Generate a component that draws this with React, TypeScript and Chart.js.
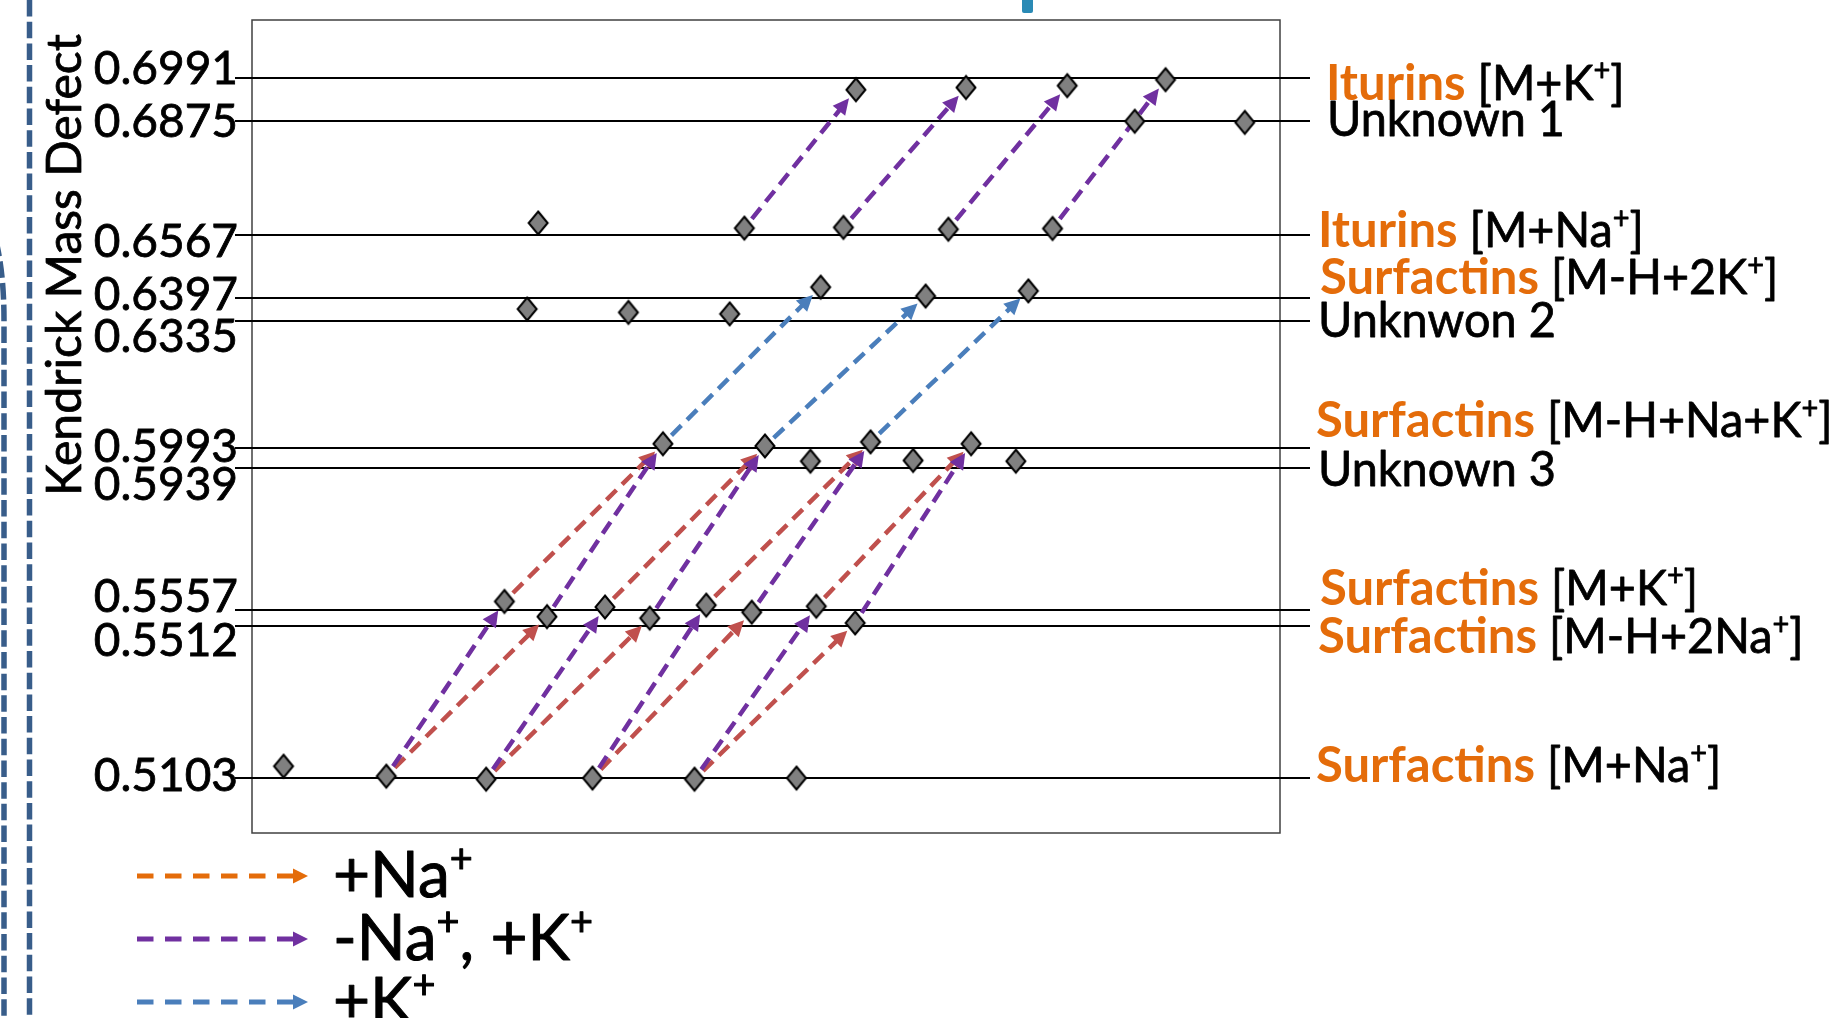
import React, { useEffect, useRef } from "react";
import { Chart, registerables } from "chart.js";

Chart.register(...registerables);

const FONT = 'Lato, "Open Sans", "DejaVu Sans", sans-serif';

// ---------- data ----------
const yTitle = "Kendrick Mass Defect";

// horizontal KMD levels (top to bottom)
const levelValues = [0.6991, 0.6875, 0.6567, 0.6397, 0.6335, 0.5993, 0.5939, 0.5557, 0.5512, 0.5103];
const levelKeys = ["itK", "unk1", "itNa", "s2K", "unk2", "sNaK", "unk3", "sK", "s2Na", "sNa"];
const levelCompounds = ["Iturins", "", "Iturins", "Surfactins", "", "Surfactins", "", "Surfactins", "Surfactins", "Surfactins"];
const levelAdducts = ["[M+K⁺]", "Unknown 1", "[M+Na⁺]", "[M-H+2K⁺]", "Unknwon 2", "[M-H+Na+K⁺]", "Unknown 3", "[M+K⁺]", "[M-H+2Na⁺]", "[M+Na⁺]"];

// diamonds: nominal mass (x) and Kendrick mass defect (y)
const itKMass = [1080.1, 1095.1, 1108.9, 1122.3];
const itKKmd = [0.6958, 0.6964, 0.6969, 0.6985];
const unk1Mass = [1118.1, 1133.1];
const unk1Kmd = [0.6873, 0.687];
const itNaMass = [1036.8, 1064.9, 1078.4, 1092.7, 1106.9];
const itNaKmd = [0.6599, 0.6585, 0.6587, 0.6582, 0.6584];
const s2KMass = [1075.3, 1089.6, 1103.6];
const s2KKmd = [0.6426, 0.6402, 0.6416];
const unk2Mass = [1035.3, 1049.1, 1062.9];
const unk2Kmd = [0.6367, 0.6358, 0.6354];
const sNaKMass = [1053.8, 1067.7, 1082.1, 1095.8];
const sNaKKmd = [0.6004, 0.5998, 0.6009, 0.6004];
const unk3Mass = [1073.9, 1087.9, 1101.9];
const unk3Kmd = [0.5957, 0.5959, 0.5957];
const sKMass = [1032.2, 1045.9, 1059.7, 1074.7];
const sKKmd = [0.5579, 0.5564, 0.5569, 0.5566];
const s2NaMass = [1038.0, 1052.0, 1065.9, 1080.0];
const s2NaKmd = [0.5538, 0.5534, 0.555, 0.5521];
const sNaMass = [1002.1, 1016.1, 1029.7, 1044.2, 1058.1, 1072.0];
const sNaKmd = [0.5135, 0.5108, 0.51, 0.5103, 0.51, 0.5103];

// arrows: [from series, index, to series, index]
type ArrowRef = [string, number, string, number];
const plusNaArrows: ArrowRef[] = [
  ["sNa", 1, "s2Na", 0], ["sNa", 2, "s2Na", 1], ["sNa", 3, "s2Na", 2], ["sNa", 4, "s2Na", 3],
  ["sK", 0, "sNaK", 0], ["sK", 1, "sNaK", 1], ["sK", 2, "sNaK", 2], ["sK", 3, "sNaK", 3],
];
const swapNaKArrows: ArrowRef[] = [
  ["sNa", 1, "sK", 0], ["sNa", 2, "sK", 1], ["sNa", 3, "sK", 2], ["sNa", 4, "sK", 3],
  ["s2Na", 0, "sNaK", 0], ["s2Na", 1, "sNaK", 1], ["s2Na", 2, "sNaK", 2], ["s2Na", 3, "sNaK", 3],
  ["itNa", 1, "itK", 0], ["itNa", 2, "itK", 1], ["itNa", 3, "itK", 2], ["itNa", 4, "itK", 3],
];
const plusKArrows: ArrowRef[] = [
  ["sNaK", 0, "s2K", 0], ["sNaK", 1, "s2K", 1], ["sNaK", 2, "s2K", 2],
];

const legendLabels = ["+Na⁺", "-Na⁺, +K⁺", "+K⁺"];

const massRange = [997.8, 1137.9];
const kmdRange = [0.4955, 0.7146];

// ---------- styles ----------
const ORANGE = "#E46C0A";
const arrowColors = { na: "#C0504D", nak: "#7030A0", k: "#4A7EBB" };
const legendColors = ["#E46C0A", "#7030A0", "#4A7EBB"];
const tickBaselineNudge = [6, 16, 22, 12, 31, 14, 32, 2, 30, 13];
const rightBaselineNudge = [22, 15, 12, -4, 16, -11, 18, -5, 27, 4];
const rightXNudge = [8, 9, 0, 2, 0, -2, 0, 2, 0, -2];

const seriesMass: Record<string, number[]> = {
  itK: itKMass, unk1: unk1Mass, itNa: itNaMass, s2K: s2KMass, unk2: unk2Mass,
  sNaK: sNaKMass, unk3: unk3Mass, sK: sKMass, s2Na: s2NaMass, sNa: sNaMass,
};
const seriesKmd: Record<string, number[]> = {
  itK: itKKmd, unk1: unk1Kmd, itNa: itNaKmd, s2K: s2KKmd, unk2: unk2Kmd,
  sNaK: sNaKKmd, unk3: unk3Kmd, sK: sKKmd, s2Na: s2NaKmd, sNa: sNaKmd,
};

function makeDiamond(): HTMLCanvasElement {
  const c = document.createElement("canvas");
  c.width = 24;
  c.height = 28;
  const g = c.getContext("2d")!;
  g.beginPath();
  g.moveTo(12, 2.5);
  g.lineTo(21.5, 14);
  g.lineTo(12, 25.5);
  g.lineTo(2.5, 14);
  g.closePath();
  g.fillStyle = "#808080";
  g.fill();
  g.lineWidth = 2;
  g.strokeStyle = "#000";
  g.stroke();
  return c;
}

function drawArrow(
  ctx: CanvasRenderingContext2D, x1: number, y1: number, x2: number, y2: number,
  color: string, lw: number, dash: number[], headLen: number, headHalf: number,
  trimStart: number, trimEnd: number
) {
  const dx = x2 - x1, dy = y2 - y1;
  const L = Math.hypot(dx, dy);
  const ux = dx / L, uy = dy / L;
  const sx = x1 + ux * trimStart, sy = y1 + uy * trimStart;
  const tx = x2 - ux * trimEnd, ty = y2 - uy * trimEnd;
  const bx = tx - ux * headLen, by = ty - uy * headLen;
  ctx.save();
  ctx.strokeStyle = color;
  ctx.fillStyle = color;
  ctx.lineWidth = lw;
  ctx.lineCap = "butt";
  ctx.setLineDash(dash);
  ctx.beginPath();
  ctx.moveTo(sx, sy);
  ctx.lineTo(bx + ux * 2, by + uy * 2);
  ctx.stroke();
  ctx.setLineDash([]);
  ctx.beginPath();
  ctx.moveTo(tx, ty);
  ctx.lineTo(bx - uy * headHalf, by + ux * headHalf);
  ctx.lineTo(bx + uy * headHalf, by - ux * headHalf);
  ctx.closePath();
  ctx.fill();
  ctx.restore();
}

type Part = { t: string; bold?: boolean; color: string };
function drawRich(
  ctx: CanvasRenderingContext2D, x: number, y: number, parts: Part[], size: number,
  weightStroke: number, regularScale: number
) {
  let cx = x;
  ctx.textAlign = "left";
  ctx.textBaseline = "alphabetic";
  ctx.lineJoin = "round";
  for (const p of parts) {
    const pieces = p.t.split(/(⁺)/);
    const hs = p.bold ? 1 : regularScale;
    for (const piece of pieces) {
      if (!piece) continue;
      ctx.fillStyle = p.color;
      ctx.strokeStyle = p.color;
      ctx.lineWidth = weightStroke;
      const isSup = piece === "⁺";
      const s = isSup ? size * 0.62 : size;
      const txt = isSup ? "+" : piece;
      const yy = isSup ? y - size * 0.37 : y;
      ctx.font = `${p.bold ? "bold " : ""}${s}px ${FONT}`;
      ctx.save();
      ctx.translate(cx, yy);
      ctx.scale(hs, 1);
      ctx.fillText(txt, 0, 0);
      if (!p.bold && weightStroke > 0) ctx.strokeText(txt, 0, 0);
      ctx.restore();
      cx += ctx.measureText(txt).width * hs;
    }
  }
}

const decorPlugin = {
  id: "kmdDecor",
  beforeDatasetsDraw(chart: any) {
    const ctx: CanvasRenderingContext2D = chart.ctx;
    const { left, right, top, bottom } = chart.chartArea;
    const xs = chart.scales.x, ys = chart.scales.y;
    ctx.save();
    // plot frame
    ctx.strokeStyle = "#404040";
    ctx.lineWidth = 1.5;
    ctx.strokeRect(left, top, right - left, bottom - top);
    // level lines
    ctx.strokeStyle = "#000";
    ctx.lineWidth = 2;
    for (const v of levelValues) {
      const y = Math.round(ys.getPixelForValue(v));
      ctx.beginPath();
      ctx.moveTo(left - 17, y);
      ctx.lineTo(right + 30, y);
      ctx.stroke();
    }
    ctx.restore();
    const pt = (k: string, i: number) => [xs.getPixelForValue(seriesMass[k][i]), ys.getPixelForValue(seriesKmd[k][i])];
    const groups: [ArrowRef[], string][] = [
      [plusKArrows, arrowColors.k],
      [plusNaArrows, arrowColors.na],
      [swapNaKArrows, arrowColors.nak],
    ];
    for (const [list, color] of groups) {
      for (const [a, i, b, j] of list) {
        const [x1, y1] = pt(a, i);
        const [x2, y2] = pt(b, j);
        drawArrow(ctx, x1, y1, x2, y2, color, 4.5, [14, 8], 16, 8, 12, 11);
      }
    }
  },
  afterDraw(chart: any) {
    const ctx: CanvasRenderingContext2D = chart.ctx;
    const { left, right } = chart.chartArea;
    const ys = chart.scales.y;
    ctx.save();
    // tick labels
    ctx.font = `46px ${FONT}`;
    ctx.fillStyle = "#000";
    ctx.strokeStyle = "#000";
    ctx.lineWidth = 0.8;
    ctx.textAlign = "right";
    ctx.textBaseline = "alphabetic";
    levelValues.forEach((v, i) => {
      const y = ys.getPixelForValue(v) + tickBaselineNudge[i];
      ctx.fillText(v.toFixed(4), left - 14, y);
      ctx.strokeText(v.toFixed(4), left - 14, y);
    });
    // right-side labels
    levelValues.forEach((v, i) => {
      const y = ys.getPixelForValue(v) + rightBaselineNudge[i];
      const x = right + 38 + rightXNudge[i];
      const parts: Part[] = [];
      if (levelCompounds[i]) {
        parts.push({ t: levelCompounds[i], bold: true, color: ORANGE });
        parts.push({ t: " " + levelAdducts[i], color: "#000" });
      } else {
        parts.push({ t: levelAdducts[i], color: "#000" });
      }
      drawRich(ctx, x, y, parts, 49, 0.8, 0.955);
    });
    // y title
    ctx.save();
    ctx.translate(81, 265);
    ctx.rotate(-Math.PI / 2);
    ctx.font = `48px ${FONT}`;
    ctx.fillStyle = "#000";
    ctx.strokeStyle = "#000";
    ctx.lineWidth = 0.8;
    ctx.textAlign = "center";
    ctx.textBaseline = "alphabetic";
    ctx.fillText(yTitle, 0, 0);
    ctx.strokeText(yTitle, 0, 0);
    ctx.restore();
    // legend
    legendLabels.forEach((lab, i) => {
      const y = 876 + i * 63;
      drawArrow(ctx, 137, y, 308, y, legendColors[i], 5, [16.5, 11.5], 15, 7.5, 0, 0);
      drawRich(ctx, 333, y + 21, [{ t: lab, color: "#000" }], 64, 1, 1);
    });
    // decorations: dashed frame fragments on the left and a teal bar on top
    ctx.strokeStyle = "#385D8A";
    ctx.lineWidth = 5.5;
    ctx.setLineDash([16.5, 5.2]);
    ctx.beginPath();
    ctx.moveTo(29.5, 0);
    ctx.lineTo(29.5, 1018);
    ctx.stroke();
    ctx.beginPath();
    ctx.moveTo(-20, 200);
    ctx.quadraticCurveTo(4, 240, 4, 320);
    ctx.lineTo(4, 1018);
    ctx.stroke();
    ctx.setLineDash([]);
    ctx.fillStyle = "#2A8AB5";
    ctx.beginPath();
    ctx.moveTo(1022, 0);
    ctx.lineTo(1033, 0);
    ctx.lineTo(1033, 11);
    ctx.quadraticCurveTo(1033, 13, 1031, 13);
    ctx.lineTo(1024, 13);
    ctx.quadraticCurveTo(1022, 13, 1022, 11);
    ctx.closePath();
    ctx.fill();
    ctx.restore();
  },
};

export default function App() {
  const ref = useRef<HTMLCanvasElement>(null);
  useEffect(() => {
    const canvas = ref.current!;
    const diamond = makeDiamond();
    const datasets = levelKeys.map((k, i) => ({
      label: levelAdducts[i],
      data: seriesMass[k].map((m, j) => ({ x: m, y: seriesKmd[k][j] })),
      pointStyle: diamond as any,
      pointRadius: 10,
      pointHoverRadius: 10,
      showLine: false,
    }));
    const chart = new Chart(canvas, {
      type: "scatter",
      data: { datasets },
      options: {
        responsive: false,
        animation: false,
        devicePixelRatio: 1,
        events: [],
        layout: { padding: { left: 252, top: 20, right: 552, bottom: 185 } },
        plugins: { legend: { display: false }, tooltip: { enabled: false } },
        scales: {
          x: { type: "linear", min: massRange[0], max: massRange[1], display: false },
          y: { type: "linear", min: kmdRange[0], max: kmdRange[1], display: false },
        },
      },
      plugins: [decorPlugin],
    });
    let alive = true;
    if ((document as any).fonts && (document as any).fonts.ready) {
      (document as any).fonts.ready.then(() => { if (alive) chart.draw(); });
    }
    return () => { alive = false; chart.destroy(); };
  }, []);
  return (
    <div style={{ position: "fixed", left: 0, top: 0, width: 1832, height: 1018, background: "#fff", overflow: "hidden" }}>
      <canvas ref={ref} width={1832} height={1018} style={{ width: 1832, height: 1018, display: "block" }} />
    </div>
  );
}
